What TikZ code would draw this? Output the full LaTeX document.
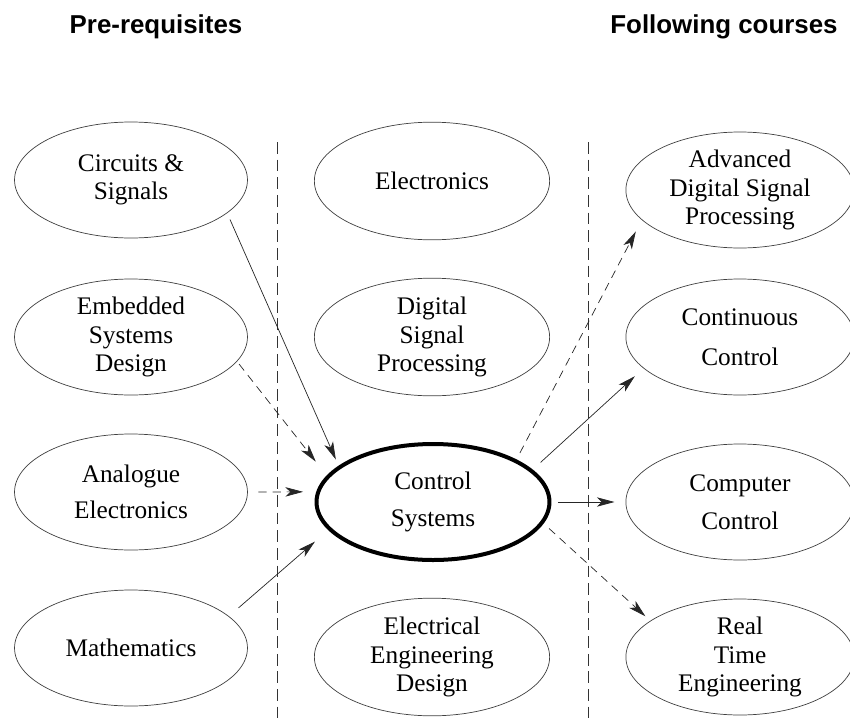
\documentclass[tikz,border=0pt]{standalone}
\usepackage{fontspec}
\setmainfont{Liberation Serif}
\newfontfamily\headfont{Liberation Sans}
\usepackage{tikz}
\usetikzlibrary{shapes,arrows.meta,positioning}

\begin{document}
\begin{tikzpicture}[x=0.85pt, y=-0.85pt, font=\fontsize{21.5}{24}\selectfont]

    % --- STYLES ---
    % Kurs-Ellipsen (duenner grauer Rand)
    \tikzset{course/.style={ellipse, draw=black!75, line width=0.6pt, inner sep=0pt, align=center, minimum width=198pt, minimum height=98.6pt}}
    \tikzset{mid/.style={minimum width=200pt, minimum height=100pt}}
    \tikzset{follow/.style={minimum width=194pt}}
    % Der Kurs selbst (dicker Rand)
    \tikzset{core/.style={course, draw=black, line width=3.4pt}}
    % Pfeile: durchgezogen = Pflicht, gestrichelt = empfohlen
    \tikzset{needs/.style={draw=black!85, line width=0.6pt, -{Stealth[length=15pt, width=8pt, inset=4pt]}}}
    \tikzset{optional/.style={needs, dash pattern=on 7pt off 5pt}}
    \tikzset{divider/.style={draw=black!80, line width=0.6pt, dash pattern=on 10pt off 5pt}}

    \useasboundingbox (0,0) rectangle (850,720);

    % --- KOPFZEILEN ---
    \node[font=\headfont\bfseries\fontsize{22}{26}\selectfont, anchor=base] (pre) at (156,33) {Pre-requisites};
    \node[font=\headfont\bfseries\fontsize{22}{26}\selectfont, anchor=base] (post) at (724,33) {Following courses};

    % --- TRENNLINIEN ---
    \draw[divider] (277,142) -- (277,720);
    \draw[divider] (588,142) -- (588,720);

    % --- VORAUSSETZUNGEN ---
    \node[course] (circ) at (131,180) {Circuits \&\\Signals};
    \node[course] (emb) at (131,337) {Embedded\\Systems\\Design};
    \node[course] (ana) at (131,492) {Analogue\\[7pt]Electronics};
    \node[course] (math) at (131,648) {Mathematics};

    % --- MITTE ---
    \node[course, mid] (elec) at (432,181) {Electronics};
    \node[course, mid] (dsp) at (432,337) {Digital\\Signal\\Processing};
    \node[core] (ctrl) at (433,502) {Control\\[8pt]Systems};
    \node[course, mid] (eed) at (432,657) {Electrical\\Engineering\\Design};

    % --- FOLGEKURSE ---
    \node[course, follow] (adsp) at (740,190) {Advanced\\Digital Signal\\Processing};
    \node[course, follow] (cont) at (740,337) {Continuous\\[10pt]Control};
    \node[course, follow] (comp) at (740,502) {Computer\\[8pt]Control};
    \node[course, follow] (rte) at (740,657) {Real\\Time\\Engineering};

    % --- PFEILE ---
    \draw[needs, shorten <=6pt, shorten >=5.8pt] (circ.-19) -- (ctrl.159);
    \draw[optional, shorten <=2.8pt, shorten >=15pt] (emb.-13.6) -- (ctrl.166.4);
    \draw[optional, shorten <=9pt, shorten >=11.2pt] (ana.east) -- (ctrl.175.1);
    \draw[needs, shorten <=10.8pt, shorten >=15pt] (math.18.1) -- (ctrl.195.2);
    \draw[optional, shorten <=6.2pt, shorten >=11pt] (ctrl.27) -- (adsp.197.5);
    \draw[needs, shorten <=9pt, shorten >=9.9pt] (ctrl.18.4) -- (cont.198.9);
    \draw[needs, shorten <=5.5pt, shorten >=9.4pt] (ctrl.east) -- (comp.west);
    \draw[optional, shorten <=6.3pt, shorten >=5.6pt] (ctrl.-11.9) -- (rte.158.4);

\end{tikzpicture}
\end{document}
